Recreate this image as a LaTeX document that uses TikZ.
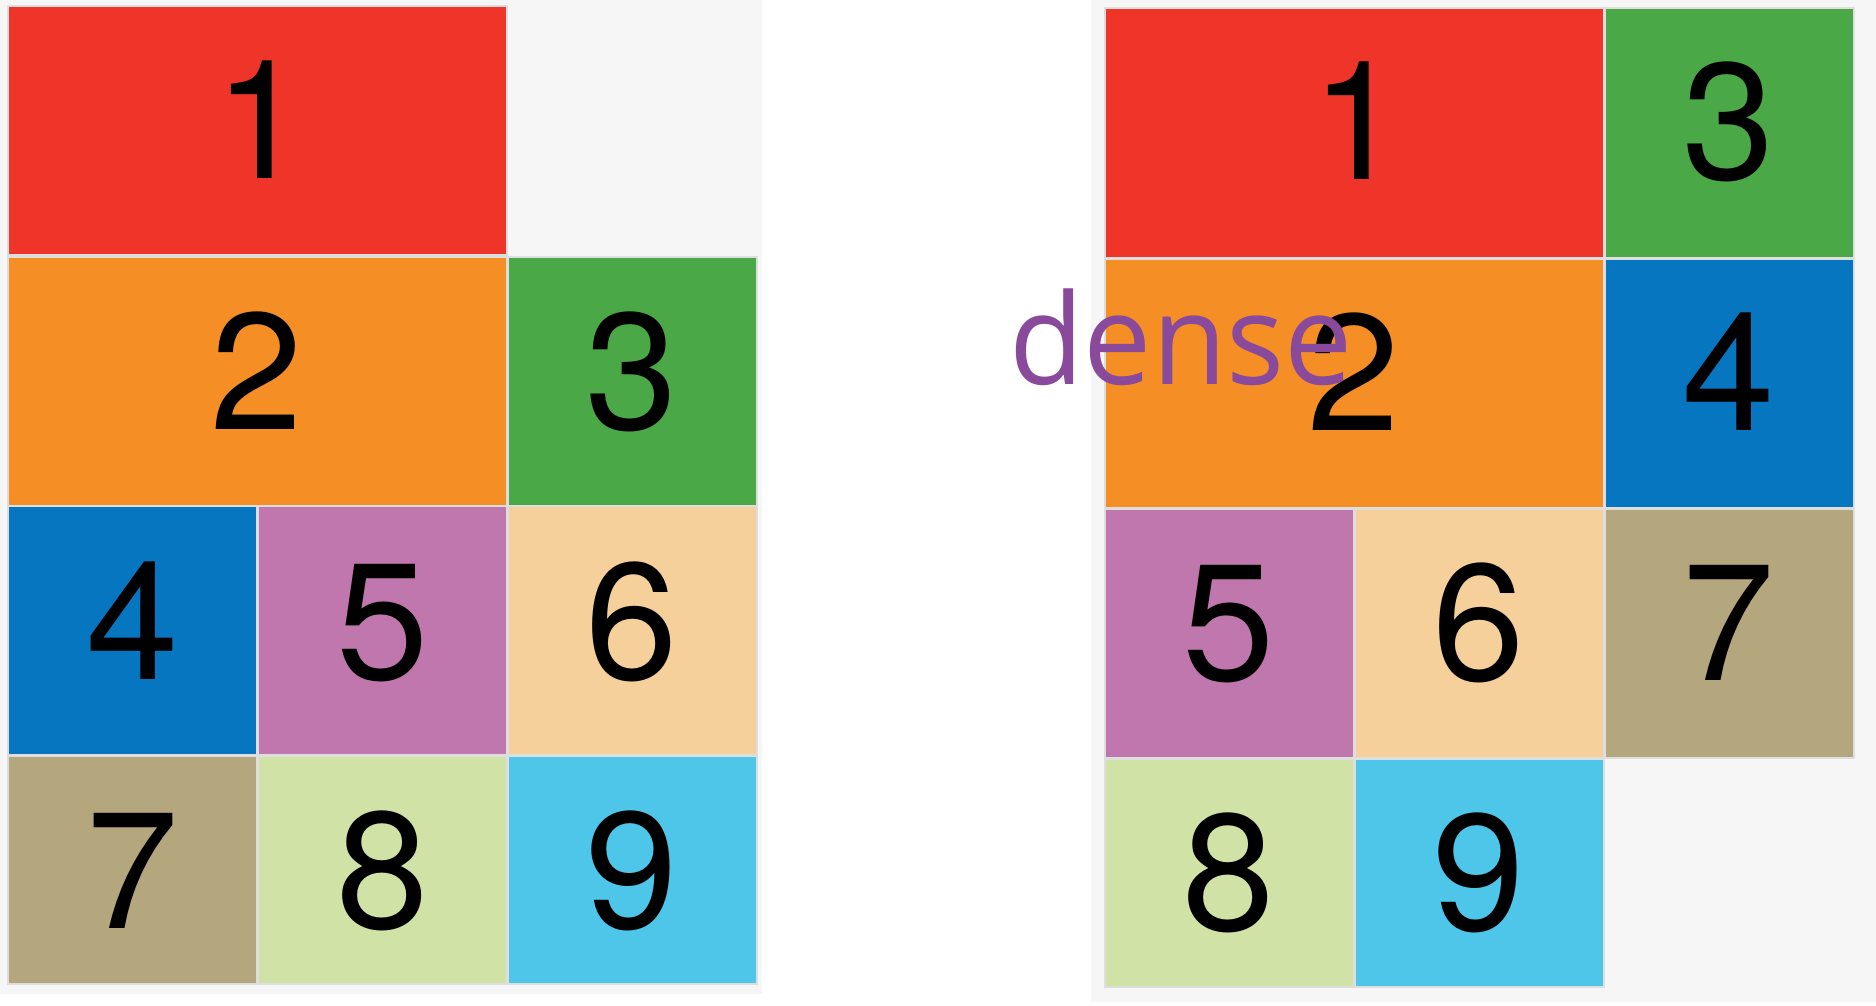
\documentclass[tikz,border=0pt]{standalone}
\usepackage{fontspec}
\setmainfont{TeX Gyre Heros}
\newfontfamily\densefont{Open Sans}
\definecolor{panelbg}{HTML}{F6F6F6}
\definecolor{cellline}{HTML}{DEDEDE}
\definecolor{cred}{HTML}{EF3429}
\definecolor{corange}{HTML}{F58F25}
\definecolor{cgreen}{HTML}{4BA846}
\definecolor{cblue}{HTML}{0776C1}
\definecolor{cpink}{HTML}{BF77AE}
\definecolor{cpeach}{HTML}{F6D09B}
\definecolor{ctan}{HTML}{B4A77E}
\definecolor{clgreen}{HTML}{D1E2A7}
\definecolor{ccyan}{HTML}{4DC6EA}
\definecolor{cpurple}{HTML}{8A4A9B}
\tikzset{
  cell/.style={draw=cellline, line width=1pt, minimum width=124.5pt, minimum height=124.5pt, inner sep=0pt, outer sep=0pt},
  wide/.style={minimum width=249.5pt},
  short/.style={minimum height=114pt},
  digit/.style={anchor=base, inner sep=0pt, font=\fontsize{83}{83}\selectfont, text=black},
  denselabel/.style={anchor=base west, inner sep=0pt, font=\densefont\fontsize{63}{63}\selectfont, text=cpurple}
}
\begin{document}
\begin{tikzpicture}[x=0.5pt,y=-0.5pt]
\useasboundingbox (0,0) rectangle (1876,1006);
\fill[white] (0,0) rectangle (1876,1006);
% panels
\fill[panelbg] (0,0) rectangle (762,994);
\fill[panelbg] (1091,0) rectangle (1876,1002);
% left grid
\node[cell, wide, fill=cred] (L1) at (257,130.5) {};
\node[cell, wide, fill=corange] (L2) at (257,381) {};
\node[cell, fill=cgreen] (L3) at (632,381) {};
\node[cell, fill=cblue] (L4) at (132.5,630.5) {};
\node[cell, fill=cpink] (L5) at (382.5,630.5) {};
\node[cell, fill=cpeach] (L6) at (632,630.5) {};
\node[cell, short, fill=ctan] (L7) at (132.5,870) {};
\node[cell, short, fill=clgreen] (L8) at (382.5,870) {};
\node[cell, short, fill=ccyan] (L9) at (632,870) {};
\node[digit] (L1t) at (261,178) {1};
\node[digit] (L2t) at (257,429) {2};
\node[digit] (L3t) at (632,429) {3};
\node[digit] (L4t) at (132.5,679) {4};
\node[digit] (L5t) at (382.5,679) {5};
\node[digit] (L6t) at (632,679) {6};
\node[digit] (L7t) at (132.5,928) {7};
\node[digit] (L8t) at (382.5,928) {8};
\node[digit] (L9t) at (632,928) {9};
% right grid
\node[cell, wide, fill=cred] (R1) at (1354,133) {};
\node[cell, fill=cgreen] (R3) at (1729,133) {};
\node[cell, wide, fill=corange] (R2) at (1354,383) {};
\node[cell, fill=cblue] (R4) at (1729,383) {};
\node[cell, fill=cpink] (R5) at (1229,633) {};
\node[cell, fill=cpeach] (R6) at (1479,633) {};
\node[cell, fill=ctan] (R7) at (1729,633) {};
\node[cell, short, fill=clgreen] (R8) at (1229,873) {};
\node[cell, short, fill=ccyan] (R9) at (1479,873) {};
\node[digit] (R1t) at (1358,180) {1};
\node[digit] (R3t) at (1729,180) {3};
\node[digit] (R2t) at (1354,430) {2};
\node[digit] (R4t) at (1729,430) {4};
\node[digit] (R5t) at (1229,680) {5};
\node[digit] (R6t) at (1479,680) {6};
\node[digit] (R7t) at (1729,680) {7};
\node[digit] (R8t) at (1229,930) {8};
\node[digit] (R9t) at (1479,930) {9};
% label
\node[denselabel] (dense) at (1009,384) {\scalebox{0.965}[1]{dense}};
\end{tikzpicture}
\end{document}
